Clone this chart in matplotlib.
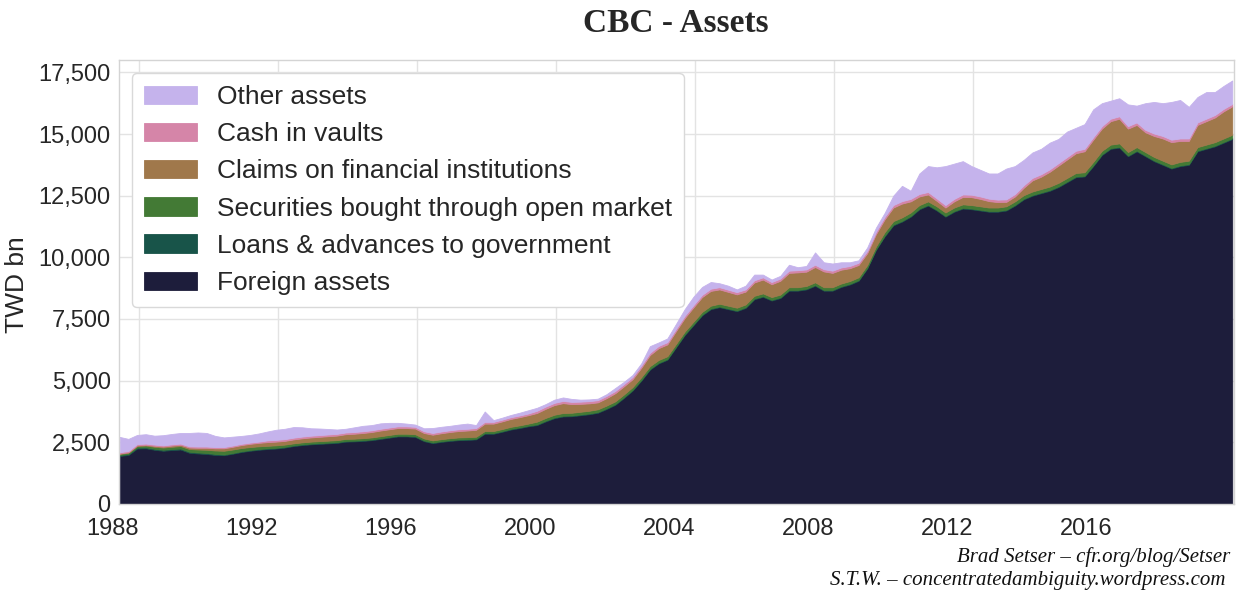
import matplotlib
matplotlib.use("Agg")
import matplotlib.pyplot as plt
from matplotlib.ticker import FuncFormatter
import pandas as pd

# ---------------- data (TWD bn, quarterly) ----------------
quarters = pd.period_range("1988Q2", "2020Q2", freq="Q")

foreign_assets = [
    1950, 1990, 2250, 2260, 2200, 2160, 2190, 2210, 2080, 2050, 2030, 1990,
    1980, 2040, 2110, 2160, 2200, 2230, 2250,
    2290, 2350, 2390, 2420, 2440, 2460, 2480, 2530, 2540, 2560, 2590, 2640, 2690, 2740,
    2740, 2720, 2550, 2470, 2520, 2560, 2590, 2600, 2620, 2850, 2850, 2930, 3020, 3080, 3150,
    3200, 3350, 3480, 3550, 3560, 3600, 3640, 3700, 3850, 4020, 4300, 4600, 5000, 5450, 5700, 5850,
    6350, 6850, 7250, 7650, 7900, 7980, 7900, 7820, 7950, 8300, 8400, 8250, 8350, 8650, 8650, 8700,
    8850, 8650, 8650, 8800, 8900, 9050, 9550, 10300,
    10850, 11300, 11450, 11650, 11950, 12100, 11900, 11650, 11850, 11980, 11950, 11900, 11850,
    11850, 11900, 12100, 12350,
    12500, 12600, 12700, 12850, 13050, 13250, 13280, 13700, 14150, 14400, 14450, 14100, 14300,
    14100, 13900, 13750, 13600, 13700, 13750, 14300, 14400, 14500, 14650, 14800,
]

loans_to_government = [
    40, 40, 40, 40, 40, 40, 40, 40, 40, 40, 40, 40,
    30, 30, 30, 30, 30, 30, 30,
    30, 30, 30, 30, 30, 30, 30, 30, 30, 30, 30, 30, 30, 30,
    30, 30, 30, 30, 30, 30, 30, 30, 30, 30, 30, 30, 30, 30, 30,
    30, 30, 30, 30, 30, 30, 30, 30, 30, 30, 30, 30, 30, 30, 30, 30,
    30, 30, 30, 30, 30, 30, 30, 30, 30, 30, 30, 30, 30, 30, 30, 30,
    30, 30, 30, 30, 30, 30, 30, 30,
    30, 30, 30, 30, 30, 30, 30, 30, 30, 30, 30, 30, 30,
    30, 30, 30, 30,
    30, 30, 30, 30, 30, 30, 30, 30, 30, 30, 30, 30, 30,
    30, 30, 30, 30, 30, 30, 30, 30, 30, 30, 30,
]

securities_open_market = [
    40, 50, 60, 70, 80, 90, 90, 100, 110, 120, 130, 140,
    150, 140, 130, 120, 110, 100, 100,
    90, 80, 80, 80, 80, 80, 80, 80, 80, 80, 80, 80, 80, 80,
    80, 80, 80, 80, 80, 80, 80, 80, 80, 80, 80, 80, 80, 80, 80,
    110, 110, 110, 110, 110, 110, 110, 110, 110, 110, 110, 110, 110, 110, 110, 110,
    110, 110, 110, 110, 110, 110, 110, 110, 110, 110, 110, 110, 110, 110, 110, 110,
    110, 110, 110, 110, 110, 110, 110, 110,
    140, 140, 140, 140, 140, 140, 140, 140, 140, 140, 140, 140, 140,
    140, 140, 140, 140,
    140, 140, 140, 140, 140, 140, 140, 140, 140, 140, 140, 140, 140,
    140, 140, 140, 140, 140, 140, 140, 140, 140, 140, 140,
]

claims_fin_institutions = [
    20, 20, 30, 30, 40, 40, 50, 50, 60, 70, 80, 90,
    100, 110, 120, 130, 140, 150, 150,
    150, 160, 165, 170, 175, 180, 185, 190, 200, 210, 220, 230, 230, 230,
    230, 230, 220, 230, 240, 250, 260, 270, 280, 300, 300, 310, 320, 330, 340,
    350, 370, 390, 400, 350, 320, 300, 280, 300, 330, 330, 320, 380, 450, 480, 480,
    520, 550, 580, 600, 600, 580, 560, 540, 520, 540, 560, 520, 560, 580, 600, 580,
    620, 640, 580, 560, 520, 500, 480, 500,
    520, 550, 560, 450, 350, 280, 220, 200, 250, 300, 320, 300, 260,
    220, 180, 200, 300,
    450, 500, 600, 700, 750, 800, 850, 900, 900, 950, 1000, 950, 900,
    800, 850, 900, 900, 850, 800, 900, 950, 1000, 1100, 1150,
]

cash_in_vaults = [
    50, 50, 50, 50, 50, 50, 50, 50, 50, 50, 50, 50,
    50, 50, 50, 50, 50, 70, 70,
    70, 70, 70, 70, 70, 70, 70, 70, 70, 70, 70, 70, 70, 70,
    70, 70, 70, 70, 70, 70, 70, 70, 70, 70, 70, 70, 70, 70, 70,
    90, 90, 90, 90, 90, 90, 90, 90, 90, 90, 90, 90, 90, 90, 90, 90,
    90, 90, 90, 90, 90, 90, 90, 90, 90, 90, 90, 90, 90, 90, 90, 90,
    90, 90, 90, 90, 90, 90, 90, 90,
    100, 100, 100, 100, 100, 100, 100, 100, 100, 100, 100, 100, 100,
    100, 100, 100, 100,
    100, 100, 100, 100, 100, 100, 100, 100, 100, 100, 100, 100, 100,
    100, 100, 100, 100, 100, 100, 100, 100, 100, 100, 100,
]

other_assets = [
    620, 490, 370, 380, 360, 410, 420, 430, 540, 570, 550, 450,
    390, 360, 320, 310, 330, 360, 410,
    420, 430, 375, 300, 265, 220, 175, 150, 190, 220, 210, 220, 190, 140,
    110, 90, 120, 200, 190, 180, 190, 210, 120, 420, 70, 80, 90, 110, 130,
    120, 100, 130, 140, 120, 80, 70, 60, 70, 120, 90, 80, 90, 270, 140, 150,
    200, 270, 340, 320, 270, 160, 160, 110, 150, 230, 110, 100, 110, 240, 120, 140,
    500, 280, 290, 210, 150, 100, 140, 170,
    160, 380, 620, 330, 830, 1050, 1260, 1580, 1430, 1350, 1160, 1080, 1020,
    1060, 1250, 1130, 1030,
    1030, 1030, 1080, 980, 1030, 930, 1000, 1130, 930, 730, 730, 880, 680,
    1080, 1280, 1330, 1530, 1560, 1280, 1030, 1080, 930, 930, 950,
]

series_names = ["Foreign assets", "Loans & advances to government",
                "Securities bought through open market",
                "Claims on financial institutions", "Cash in vaults", "Other assets"]
series_colors = ["#1d1d3b", "#185449", "#437a35", "#a0784b", "#d585a8", "#c5b3ec"]

year_labels = ["1988", "1992", "1996", "2000", "2004", "2008", "2012", "2016"]
y_ticks = [0, 2500, 5000, 7500, 10000, 12500, 15000, 17500]

# ---------------- plot ----------------
TXT = "#262626"
plt.rcParams["font.family"] = ["Liberation Sans", "DejaVu Sans"]

W, H = 1241, 595
fig = plt.figure(figsize=(W / 100, H / 100), dpi=100)
fig.patch.set_facecolor("white")
ax = fig.add_axes([119 / W, 1 - 504 / H, (1234 - 119) / W, (504 - 60) / H])

x = [p.year + (p.quarter - 1) / 4 for p in quarters]
stacks = [foreign_assets, loans_to_government, securities_open_market,
          claims_fin_institutions, cash_in_vaults, other_assets]
polys = ax.stackplot(x, *stacks, colors=series_colors, labels=series_names,
                     linewidth=0.6, zorder=2)
for p, c in zip(polys, series_colors):
    p.set_edgecolor(c)

ax.set_xlim(1988.23, 2020.30)
ax.set_ylim(0, 18000)

# x ticks: in the reference the gridlines sit ~0.8 yr right of the year labels,
# the labels hang to the left of their gridline
grid_pos = [int(l) + 0.805 for l in year_labels]
ax.set_xticks(grid_pos)
ax.set_xticklabels(year_labels, ha="right")

ax.set_yticks(y_ticks)
ax.yaxis.set_major_formatter(FuncFormatter(lambda v, p: f"{v:,.0f}"))

ax.tick_params(axis="both", length=0, labelsize=17, labelcolor=TXT)
ax.tick_params(axis="x", pad=10)
ax.tick_params(axis="y", pad=6)

ax.grid(True, color="#e3e3e3", linewidth=1, zorder=0)
ax.set_axisbelow(True)
for s in ax.spines.values():
    s.set_color("#d4d4d4")
    s.set_linewidth(1)
    s.set_zorder(3)

fig.text(17 / W, 1 - 285 / H, "TWD bn", rotation=90, ha="center", va="center",
         fontsize=19, color=TXT)

handles, labels = ax.get_legend_handles_labels()
leg = ax.legend(handles[::-1], labels[::-1], loc="upper left", fontsize=19,
                labelspacing=0.5, handlelength=2.0, handleheight=0.7,
                handletextpad=0.75, borderpad=0.45, borderaxespad=0.5,
                frameon=True, fancybox=True, framealpha=1.0,
                edgecolor="#d9d9d9")
for t in leg.get_texts():
    t.set_color(TXT)

fig.text(676 / W, 1 - 32 / H, "CBC - Assets", ha="center", va="baseline",
         fontsize=24, fontweight="bold", family=["Liberation Serif", "DejaVu Serif"],
         color=TXT)

fig.text(1230 / W, 1 - 562 / H, "Brad Setser \u2013 cfr.org/blog/Setser",
         ha="right", va="baseline", fontsize=15, style="italic",
         family=["Liberation Serif", "DejaVu Serif"], color="#111111")
fig.text(1225 / W, 1 - 585 / H, "S.T.W. \u2013 concentratedambiguity.wordpress.com",
         ha="right", va="baseline", fontsize=15, style="italic",
         family=["Liberation Serif", "DejaVu Serif"], color="#111111")

fig.savefig("out.png", dpi=100, facecolor="white")
